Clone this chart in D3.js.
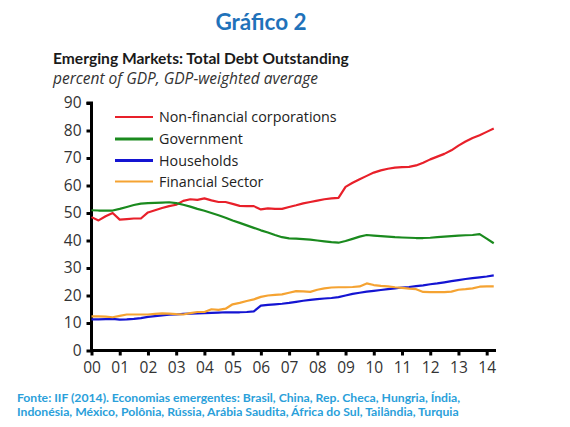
<!DOCTYPE html>
<html><head><meta charset="utf-8">
<script src="https://cdn.jsdelivr.net/npm/d3@7"></script>
<style>
body{margin:0;background:#fff;}
svg{display:block;}
</style></head>
<body>
<svg id="chart" width="570" height="427"></svg>
<script>
// quarterly data, 2000Q1 .. 2014Q2
const startYear = 2000;
const nonFinancial = [48.5,47.3,48.8,50.0,47.6,47.8,48.0,48.0,50.2,51.0,51.8,52.5,53.0,54.4,55.0,54.8,55.3,54.6,54.0,54.0,53.3,52.6,52.5,52.5,51.3,51.7,51.5,51.5,52.2,52.8,53.5,54.0,54.5,55.0,55.3,55.5,59.5,61.0,62.3,63.5,64.7,65.5,66.1,66.5,66.7,66.8,67.3,68.3,69.5,70.5,71.5,72.8,74.5,76.0,77.3,78.3,79.5,80.7];
const government = [51.0,50.9,50.9,50.9,51.5,52.2,52.9,53.4,53.6,53.7,53.8,53.9,53.6,53.0,52.3,51.5,50.8,50.0,49.2,48.3,47.3,46.4,45.5,44.6,43.7,42.9,42.0,41.2,40.8,40.7,40.5,40.3,40.0,39.7,39.4,39.2,39.8,40.6,41.4,42.0,41.8,41.6,41.4,41.2,41.1,41.0,40.9,40.9,41.0,41.2,41.4,41.6,41.8,41.9,42.0,42.3,40.7,39.0];
const households = [11.3,11.3,11.4,11.5,11.2,11.3,11.5,11.8,12.2,12.5,12.8,13.0,13.1,13.3,13.4,13.5,13.6,13.7,13.8,13.9,13.9,13.9,14.0,14.2,16.3,16.6,16.8,17.0,17.3,17.7,18.1,18.4,18.7,18.9,19.1,19.4,20.0,20.6,21.0,21.4,21.7,22.0,22.3,22.6,22.9,23.1,23.4,23.7,24.1,24.4,24.8,25.2,25.6,26.0,26.3,26.6,26.9,27.3];
const financial = [12.4,12.4,12.3,12.1,12.6,13.1,13.1,13.1,13.1,13.3,13.5,13.4,13.2,13.1,13.6,14.0,14.0,15.0,14.8,15.2,16.8,17.3,18.0,18.6,19.5,20.0,20.2,20.4,21.0,21.6,21.5,21.3,22.1,22.6,22.9,23.0,23.0,23.1,23.3,24.4,23.8,23.5,23.3,23.0,22.8,22.5,22.3,21.3,21.2,21.2,21.2,21.4,22.1,22.3,22.6,23.2,23.3,23.3];
const seriesNames = ["Non-financial corporations","Government","Households","Financial Sector"];
const seriesColors = ["#e8202a","#1a8a1e","#1414d2","#f5a332"];
const yTicks = [0,10,20,30,40,50,60,70,80,90];
const xTickYears = d3.range(2000,2015);
const xTickLabels = ["00","01","02","03","04","05","06","07","08","09","10","11","12","13","14"];
const titleText = "Gráfico 2";
const subtitleText = "Emerging Markets: Total Debt Outstanding";
const unitText = "percent of GDP, GDP-weighted average";
const sourceLines = ["Fonte: IIF (2014).  Economias emergentes: Brasil, China, Rep. Checa, Hungria, Índia,",
  "Indonésia, México, Polônia, Rússia, Arábia Saudita, África do Sul, Tailândia, Turquia"];

const svg = d3.select("#chart");
const x = d3.scaleLinear().domain([2000, 2014.33]).range([91.5, 496]);
const y = d3.scaleLinear().domain([0, 90]).range([350.5, 103]);
const t = i => startYear + i/4;

// titles
svg.append("text").attr("x",261).attr("y",30).attr("text-anchor","middle")
  .attr("font-family","Lato").attr("font-weight","bold").attr("font-size",22.5)
  .attr("fill","#1f72ba").text(titleText);
svg.append("text").attr("x",53).attr("y",64)
  .attr("font-family","Lato").attr("font-weight","bold").attr("font-size",15.6)
  .attr("fill","#1a1a1a").text(subtitleText);
svg.append("text").attr("x",53).attr("y",84)
  .attr("font-family","Open Sans").attr("font-style","italic").attr("font-size",15.5)
  .attr("fill","#333").text(unitText);

// axes
const yAxis = d3.axisLeft(y).tickValues(yTicks).tickSize(5).tickPadding(5);
const gy = svg.append("g").attr("transform","translate(91.5,0)").call(yAxis);
const xAxis = d3.axisBottom(x).tickValues(xTickYears).tickFormat((d,i)=>xTickLabels[i]).tickSize(5).tickPadding(6);
const gx = svg.append("g").attr("transform","translate(0,350.5)").call(xAxis);
[gy,gx].forEach(g=>{
  g.select(".domain").attr("stroke","#000").attr("stroke-width",3);
  g.selectAll(".tick line").attr("stroke","#000").attr("stroke-width",3);
  g.selectAll(".tick text").attr("font-family","Open Sans").attr("font-size",15.5).attr("fill","#333");
});
gy.select(".domain").attr("d","M-5,103H0V352");
gx.select(".domain").attr("d","M90,0H496");

// lines
const allSeries = [nonFinancial, government, households, financial];
const line = d3.line().x((d,i)=>x(t(i))).y(d=>y(d));
allSeries.forEach((s,k)=>{
  svg.append("path").datum(s).attr("fill","none").attr("stroke",seriesColors[k])
    .attr("stroke-width",2.2).attr("stroke-linejoin","round").attr("d",line);
});

// legend
const legY = [117,139,160.5,181.5];
seriesNames.forEach((n,k)=>{
  svg.append("line").attr("x1",115).attr("x2",153).attr("y1",legY[k]).attr("y2",legY[k])
    .attr("stroke",seriesColors[k]).attr("stroke-width",(k===1||k===2)?3:2);
  svg.append("text").attr("x",159).attr("y",legY[k]+5)
    .attr("font-family","Open Sans").attr("font-size",14.3).attr("fill","#222").text(n);
});

// source
sourceLines.forEach((l,i)=>{
  svg.append("text").attr("x",17).attr("y",402+i*14)
    .attr("font-family","Lato").attr("font-weight","bold").attr("font-size",12.2)
    .attr("fill","#2aa0da").text(l);
});
</script>
</body></html>
